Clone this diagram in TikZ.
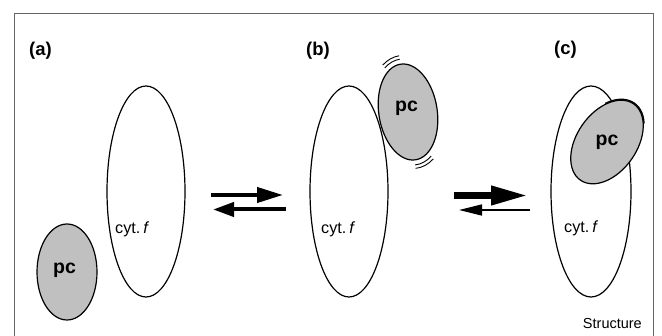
\documentclass[tikz,border=0pt]{standalone}
\usepackage{fontspec}
\setmainfont{Liberation Sans}
\usetikzlibrary{shapes.geometric,arrows.meta}
\definecolor{pcgray}{RGB}{192,192,192}
\begin{document}
\begin{tikzpicture}[x=1pt,y=-1pt,
  cyt/.style={ellipse,draw,line width=1.2pt,inner sep=0pt,minimum width=78pt,minimum height=211pt},
  pcshape/.style={ellipse,draw,line width=1.2pt,fill=pcgray,inner sep=0pt},
  panel/.style={font=\fontsize{18.5}{18.5}\selectfont\bfseries,inner sep=0pt},
  pclabel/.style={font=\fontsize{19.5}{19.5}\selectfont\bfseries,anchor=base,inner sep=0pt},
  cytlabel/.style={font=\fontsize{16.2}{16.2}\selectfont,anchor=base west,inner sep=0pt},
  vib/.style={line width=0.9pt},
  frame/.style={draw=black!60,line width=0.9pt}
]
\useasboundingbox (0,0) rectangle (662,336);
% frame
\coordinate (fbl) at (14,345);
\coordinate (ftl) at (14,13);
\coordinate (ftr) at (653,13);
\coordinate (fbr) at (653,345);
\draw[frame] (fbl) -- (ftl) -- (ftr) -- (fbr);
% cytochrome f
\node[cyt] (cyta) at (146,191.5) {};
\node[cyt] (cytb) at (349,191.5) {};
\node[cyt,minimum width=80pt] (cytc) at (591,191.5) {};
% plastocyanin
\node[pcshape,minimum width=60pt,minimum height=96pt] (pca) at (67,272) {};
\node[pcshape,minimum width=58.4pt,minimum height=96.8pt,rotate=9] (pcb) at (408,112) {};
\node[pcshape,minimum width=93pt,minimum height=60pt,rotate=55] (pcc) at (607,142) {};
% double outline on pc (c)
\begin{scope}[shift={(pcc.center)},rotate=55]
  \draw[line width=1.3pt] (-50:47.5 and 30.8) arc[start angle=-50,end angle=40,x radius=47.5,y radius=30.8];
\end{scope}
% vibration marks on pc (b)
\begin{scope}[shift={(pcb.center)},rotate=9]
  \foreach \rx/\ry in {34.2/53.4,37.7/56.9} {
    \draw[vib] (-118:{\rx} and {\ry}) arc[start angle=-118,end angle=-90,x radius=\rx,y radius=\ry];
    \draw[vib] (62:{\rx} and {\ry}) arc[start angle=62,end angle=92,x radius=\rx,y radius=\ry];
  }
\end{scope}
% labels
\node[pclabel] (pcta) at (64.5,274) {pc};
\node[pclabel] (pctb) at (406.5,112) {pc};
\node[pclabel] (pctc) at (607,146) {pc};
\node[cytlabel] (cyfa) at (115,234) {cyt.\hspace{3pt}\textit{f}};
\node[cytlabel] (cyfb) at (321,234) {cyt.\hspace{3pt}\textit{f}};
\node[cytlabel] (cyfc) at (564,233) {cyt.\hspace{3pt}\textit{f}};
\node[panel] (la) at (40.5,51) {(a)};
\node[panel] (lb) at (318,50.5) {(b)};
\node[panel] (lc) at (565.5,50) {(c)};
\node[font=\fontsize{14.5}{14.5}\selectfont,anchor=base east,inner sep=0pt] (st) at (642,329) {Structure};
% equilibrium arrows (a)<->(b)
\coordinate (a1s) at (211,195);
\coordinate (a1e) at (283,195);
\coordinate (a2s) at (286,209.5);
\coordinate (a2e) at (213,209.5);
\draw[line width=4pt,-{Triangle[length=26pt,width=15pt]}] (a1s) -- (a1e);
\draw[line width=4pt,-{Triangle[length=21pt,width=14pt]}] (a2s) -- (a2e);
% equilibrium arrows (b)<->(c)
\coordinate (b1s) at (454,195.5);
\coordinate (b1e) at (528,195.5);
\coordinate (b2s) at (530,210);
\coordinate (b2e) at (459,210);
\draw[line width=7pt,-{Triangle[length=37pt,width=18pt]}] (b1s) -- (b1e);
\draw[line width=1.5pt,-{Triangle[length=23pt,width=11pt]}] (b2s) -- (b2e);
\end{tikzpicture}
\end{document}
